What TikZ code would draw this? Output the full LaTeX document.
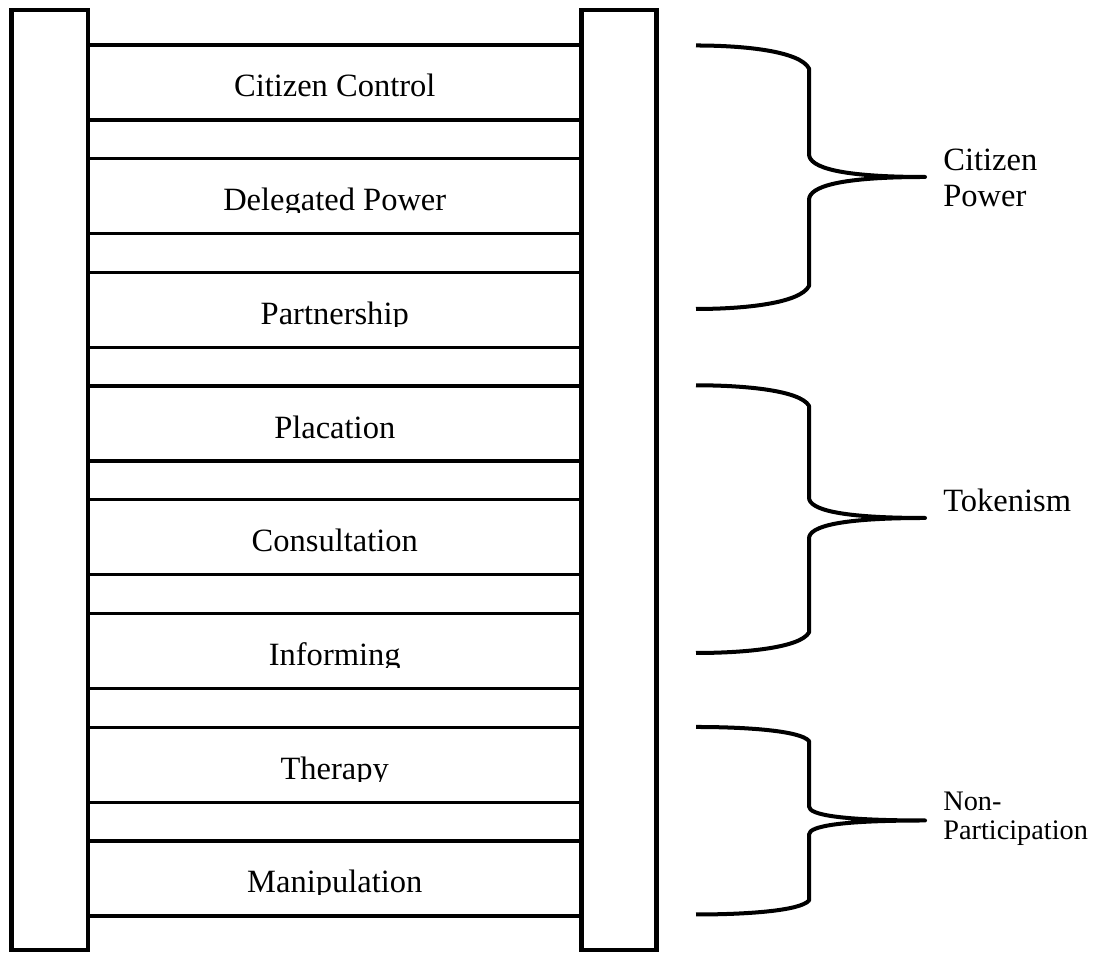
\documentclass[tikz,border=0pt]{standalone}
\usepackage{fontspec}
\setmainfont{Liberation Serif}
\begin{document}
\begin{tikzpicture}[
    rail/.style={draw, line width=2.56pt, inner sep=0pt},
    rung/.style={line width=1.88pt},
    brace/.style={line width=2.28pt, line join=round},
    rungtext/.style={anchor=base, inner sep=0pt, font=\fontsize{18.5}{21}\selectfont},
    grouptext/.style={anchor=base west, align=left, inner sep=0pt, font=\fontsize{18.5}{21}\selectfont}
  ]
  \useasboundingbox (0,0) rectangle (22.04,19.06);
  % montants
  \node[rail, minimum width=1.526cm, minimum height=18.8cm] (gauche) at (0.997,9.46) {};
  \node[rail, minimum width=1.5cm, minimum height=18.8cm] (droite) at (12.38,9.46) {};
  % barreaux
  \foreach \i in {0,...,7} {
    \draw[rung] (1.76,{18.16-2.274*\i}) -- (11.63,{18.16-2.274*\i});
    \draw[rung] (1.76,{16.66-2.274*\i}) -- (11.63,{16.66-2.274*\i});
  }
  % echelons
  \foreach \txt [count=\i from 0] in {Citizen Control, Delegated Power, Partnership, Placation,
      Consultation, Informing, Therapy, Manipulation} {
    \begin{scope}
      \clip (1.76,{17.08-2.274*\i}) rectangle (11.63,{18.16-2.274*\i});
      \node[rungtext] (echelon\i) at (6.695,{17.12-2.274*\i}) {\txt};
    \end{scope}
  }
  % accolades
  \foreach \yh/\yb/\ym/\d in {18.15/12.88/15.52/0.46, 11.354/6.0/8.7/0.41, 4.52/0.77/2.65/0.28} {
    \draw[brace] (13.92,\yh) .. controls (14.9,\yh) and (16.0,{\yh-0.25*\d}) .. (16.18,{\yh-\d})
      -- (16.18,{\ym+\d})
      .. controls (16.18,{\ym+0.4*\d}) and (16.82,\ym) .. (18.5,\ym)
      .. controls (16.82,\ym) and (16.18,{\ym-0.4*\d}) .. (16.18,{\ym-\d})
      -- (16.18,{\yb+\d})
      .. controls (16.0,{\yb+0.25*\d}) and (14.9,\yb) .. (13.92,\yb);
  }
  % groupes
  \node[grouptext] (pouvoir) at (18.86,14.92) {Citizen\\Power};
  \node[grouptext] (tokenisme) at (18.86,8.82) {Tokenism};
  \node[grouptext, font=\fontsize{16.1}{17}\selectfont] (nonpart) at (18.86,2.26) {Non-\\Participation};
\end{tikzpicture}
\end{document}
